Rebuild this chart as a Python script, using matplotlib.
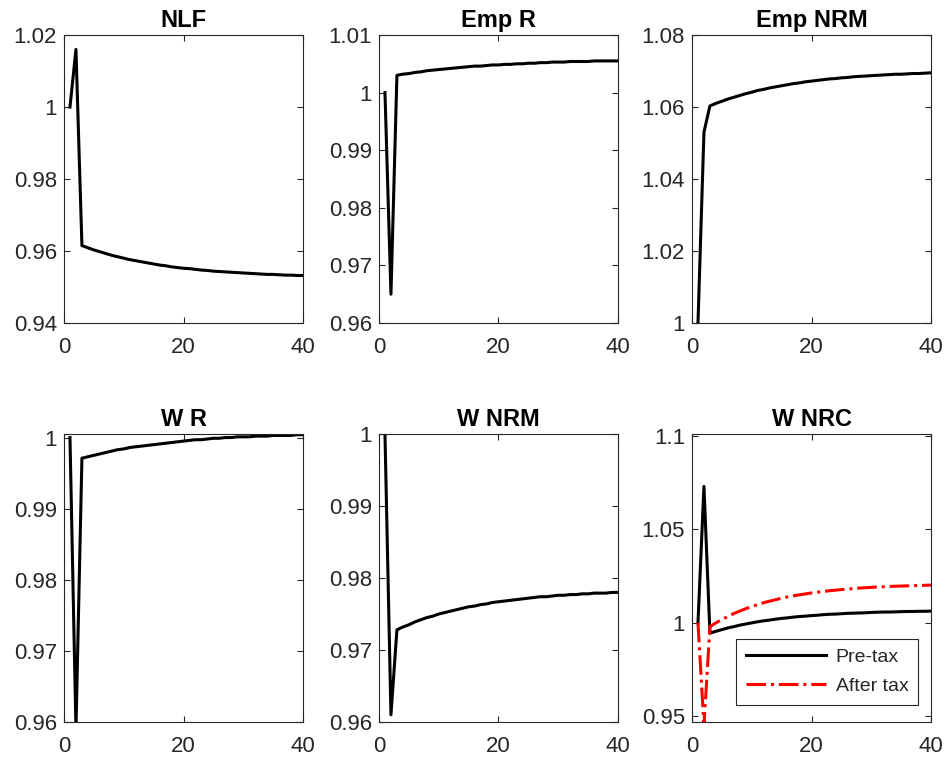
import numpy as np
import matplotlib
matplotlib.use("Agg")
import matplotlib.pyplot as plt
from matplotlib.ticker import FuncFormatter

plt.rcParams['font.family'] = ['Liberation Sans', 'DejaVu Sans']

periods = np.arange(1, 41)

nlf = [1.0, 1.016, 0.9615, 0.9609, 0.9603, 0.9598, 0.9593, 0.9588, 0.9584, 0.9580,
       0.9576, 0.9573, 0.9570, 0.9567, 0.9564, 0.9561, 0.9559, 0.9556, 0.9554, 0.9552,
       0.9551, 0.9549, 0.9547, 0.9546, 0.9544, 0.9543, 0.9542, 0.9541, 0.9540, 0.9539,
       0.9538, 0.9537, 0.9536, 0.9535, 0.9535, 0.9534, 0.9533, 0.9533, 0.9532, 0.9532]

emp_r = [1.0, 0.965, 1.0030, 1.0032, 1.0033, 1.0035, 1.0036, 1.0038, 1.0039, 1.0040,
         1.0041, 1.0042, 1.0043, 1.0044, 1.0045, 1.0046, 1.0046, 1.0047, 1.0048, 1.0048,
         1.0049, 1.0049, 1.0050, 1.0050, 1.0051, 1.0051, 1.0052, 1.0052, 1.0053, 1.0053,
         1.0053, 1.0054, 1.0054, 1.0054, 1.0054, 1.0055, 1.0055, 1.0055, 1.0055, 1.0055]

emp_nrm = [1.0, 1.053, 1.0603, 1.0610, 1.0616, 1.0622, 1.0627, 1.0632, 1.0637, 1.0641,
           1.0646, 1.0649, 1.0653, 1.0656, 1.0659, 1.0662, 1.0665, 1.0667, 1.0670, 1.0672,
           1.0674, 1.0676, 1.0678, 1.0679, 1.0681, 1.0682, 1.0684, 1.0685, 1.0686, 1.0687,
           1.0688, 1.0689, 1.0690, 1.0691, 1.0691, 1.0692, 1.0693, 1.0693, 1.0694, 1.0695]

w_r = [1.0, 0.959, 0.9971, 0.9973, 0.9975, 0.9977, 0.9979, 0.9981, 0.9983, 0.9984,
       0.9986, 0.9987, 0.9988, 0.9989, 0.9990, 0.9991, 0.9992, 0.9993, 0.9994, 0.9995,
       0.9996, 0.9997, 0.9997, 0.9998, 0.9999, 0.9999, 1.0000, 1.0000, 1.0001, 1.0001,
       1.0001, 1.0002, 1.0002, 1.0002, 1.0003, 1.0003, 1.0003, 1.0003, 1.0004, 1.0004]

w_nrm = [1.0, 0.961, 0.9728, 0.9732, 0.9735, 0.9739, 0.9742, 0.9745, 0.9747, 0.9750,
         0.9752, 0.9754, 0.9756, 0.9758, 0.9760, 0.9761, 0.9763, 0.9764, 0.9766, 0.9767,
         0.9768, 0.9769, 0.9770, 0.9771, 0.9772, 0.9773, 0.9774, 0.9774, 0.9775, 0.9776,
         0.9776, 0.9777, 0.9777, 0.9778, 0.9778, 0.9779, 0.9779, 0.9779, 0.9780, 0.9780]

w_nrc_pre = [1.0, 1.073, 0.9945, 0.9955, 0.9964, 0.9973, 0.9980, 0.9988, 0.9994, 1.0000,
             1.0006, 1.0011, 1.0015, 1.0020, 1.0024, 1.0027, 1.0031, 1.0034, 1.0036, 1.0039,
             1.0041, 1.0044, 1.0046, 1.0047, 1.0049, 1.0051, 1.0052, 1.0053, 1.0054, 1.0056,
             1.0057, 1.0058, 1.0058, 1.0059, 1.0060, 1.0061, 1.0061, 1.0062, 1.0062, 1.0063]

w_nrc_after = [1.0, 0.945, 0.9980, 1.0000, 1.0018, 1.0034, 1.0050, 1.0063, 1.0076, 1.0087,
               1.0098, 1.0108, 1.0116, 1.0124, 1.0132, 1.0139, 1.0145, 1.0150, 1.0155, 1.0160,
               1.0164, 1.0168, 1.0172, 1.0175, 1.0178, 1.0181, 1.0183, 1.0186, 1.0188, 1.0190,
               1.0192, 1.0193, 1.0195, 1.0196, 1.0197, 1.0198, 1.0199, 1.0200, 1.0201, 1.0202]

titles = ['NLF', 'Emp R', 'Emp NRM', 'W R', 'W NRM', 'W NRC']
series = [nlf, emp_r, emp_nrm, w_r, w_nrm, w_nrc_pre]
ylims = [(0.94, 1.02), (0.96, 1.01), (1.0, 1.08), (0.96, 1.0005), (0.96, 1.0), (0.947, 1.101)]
yticks = [[0.94, 0.96, 0.98, 1.0, 1.02],
          [0.96, 0.97, 0.98, 0.99, 1.0, 1.01],
          [1.0, 1.02, 1.04, 1.06, 1.08],
          [0.96, 0.97, 0.98, 0.99, 1.0],
          [0.96, 0.97, 0.98, 0.99, 1.0],
          [0.95, 1.0, 1.05, 1.1]]
legend_labels = ['Pre-tax', 'After tax']

W, H = 950, 761
lefts = [64, 379, 692]
tops = [35, 434]
ax_w, ax_h = 239, 288
grey = '#262626'

fig = plt.figure(figsize=(W / 100, H / 100), dpi=100)

for i in range(6):
    r, c = divmod(i, 3)
    ax = fig.add_axes([lefts[c] / W, 1 - (tops[r] + ax_h) / H, ax_w / W, ax_h / H])
    ax.plot(periods, series[i], color='black', lw=2.2, label=legend_labels[0])
    if i == 5:
        ax.plot(periods, w_nrc_after, color='red', lw=2.2, ls='-.', label=legend_labels[1])
        leg = ax.legend(loc='lower right', bbox_to_anchor=(1 - 13 / ax_w, 17 / ax_h),
                        borderaxespad=0, fontsize=14, handlelength=4.1, fancybox=False,
                        framealpha=1, edgecolor=grey, borderpad=0.5, labelspacing=0.6,
                        handletextpad=0.5)
        leg.get_frame().set_linewidth(0.8)
        for t in leg.get_texts():
            t.set_color(grey)
    ax.set_xlim(0, 40)
    ax.set_ylim(*ylims[i])
    ax.set_xticks([0, 20, 40])
    ax.set_yticks(yticks[i])
    ax.yaxis.set_major_formatter(FuncFormatter(lambda v, p: f'{v:g}'))
    ax.tick_params(direction='in', top=True, right=True, labelsize=16, colors=grey,
                   length=4, width=0.8)
    ax.tick_params(axis='x', pad=10)
    ax.tick_params(axis='y', pad=5)
    for s in ax.spines.values():
        s.set_color(grey)
        s.set_linewidth(0.8)
    ax.set_title(titles[i], fontsize=17, fontweight='bold', pad=6)

fig.savefig('out.png', dpi=100)
